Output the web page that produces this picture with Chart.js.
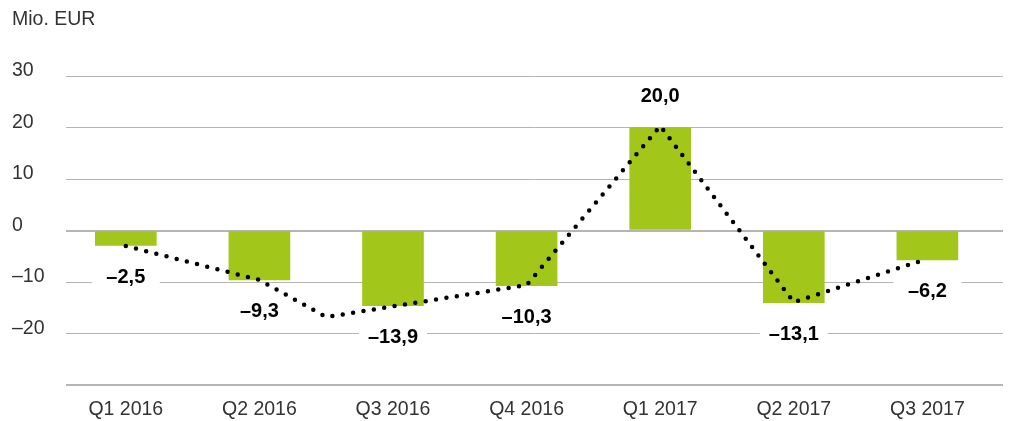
<!DOCTYPE html>
<html><head><meta charset="utf-8">
<script src="https://cdn.jsdelivr.net/npm/chart.js@4"></script>
<style>html,body{margin:0;padding:0;background:#fff}</style>
</head><body>
<canvas id="c" width="1009" height="421"></canvas>
<script>
const categories = ['Q1 2016','Q2 2016','Q3 2016','Q4 2016','Q1 2017','Q2 2017','Q3 2017'];
const barValues = [-2.9, -9.6, -14.6, -10.7, 20.0, -14.0, -5.7];
const barLabels = ['–2,5','–9,3','–13,9','–10,3','20,0','–13,1','–6,2'];
const linePositions = [0, 1, 1.5, 3, 4, 5, 6];
const lineValues = [-3.0, -9.6, -16.8, -10.6, 20.3, -13.9, -5.5];
const yTickValues = [30, 20, 10, 0, -10, -20, -30];
const yUnit = 'Mio. EUR';

const FONT = "'Liberation Sans', Arial, sans-serif";
const TXT = '#333333';

const labelPlugin = {
  id: 'barLabels',
  beforeDatasetsDraw(chart) {
    const ctx = chart.ctx;
    const meta = chart.getDatasetMeta(1);
    ctx.save();
    ctx.font = 'bold 20px ' + FONT;
    ctx.textAlign = 'center';
    ctx.textBaseline = 'middle';
    meta.data.forEach((bar, i) => {
      const v = barValues[i];
      const x = bar.x;
      const y = v < 0 ? bar.y + 31 : bar.y - 32;
      ctx.fillStyle = '#ffffff';
      ctx.fillRect(x - 34, y - 11, 68, 22);
      ctx.fillStyle = '#000000';
      ctx.fillText(barLabels[i], x, y + 1);
    });
    ctx.restore();
  }
};

new Chart(document.getElementById('c'), {
  type: 'bar',
  data: {
    datasets: [
      {
        type: 'line',
        data: linePositions.map((x, i) => ({ x: x, y: lineValues[i] })),
        borderColor: '#000000',
        borderWidth: 4.5,
        borderDash: [0, 10.5],
        borderCapStyle: 'round',
        pointRadius: 0,
        tension: 0,
        fill: false,
        order: 0
      },
      {
        type: 'bar',
        data: barValues.map((y, i) => ({ x: i, y: y })),
        backgroundColor: '#a3c61a',
        barThickness: 61,
        order: 1
      }
    ]
  },
  options: {
    responsive: false,
    animation: false,
    devicePixelRatio: 1,
    layout: { padding: { left: 12, right: 6, top: 0, bottom: 0 } },
    plugins: {
      legend: { display: false },
      tooltip: { enabled: false },
      title: {
        display: true, text: yUnit, align: 'start', color: TXT,
        font: { family: FONT, size: 19.5, weight: 'normal' },
        padding: { top: 8.3, bottom: 44.3 }
      }
    },
    scales: {
      x: {
        type: 'linear', min: -0.4476, max: 6.566, offset: false,
        grid: { display: false, offset: false }, border: { display: false },
        afterBuildTicks: s => { s.ticks = categories.map((_, i) => ({ value: i })); },
        afterFit: s => { s.height = 36; },
        ticks: {
          callback: v => categories[v] !== undefined ? categories[v] : '',
          autoSkip: false, maxRotation: 0, padding: 5, color: TXT,
          font: { family: FONT, size: 19.5 }
        }
      },
      y: {
        min: -30, max: 30,
        afterBuildTicks: s => { s.ticks = yTickValues.map(v => ({ value: v })); },
        afterFit: s => { s.width = 54; },
        border: { display: false },
        grid: {
          drawTicks: false, color: '#b5b5b5',
          lineWidth: c => (c.tick && (c.tick.value === 0 || c.tick.value === -30)) ? 2 : 1
        },
        ticks: {
          callback: v => v === -30 ? '' : (v < 0 ? '–' + Math.abs(v) : String(v)),
          crossAlign: 'far', labelOffset: -5, padding: 0, color: TXT,
          font: { family: FONT, size: 19.5 }
        }
      }
    }
  },
  plugins: [labelPlugin]
});
</script>
</body></html>
